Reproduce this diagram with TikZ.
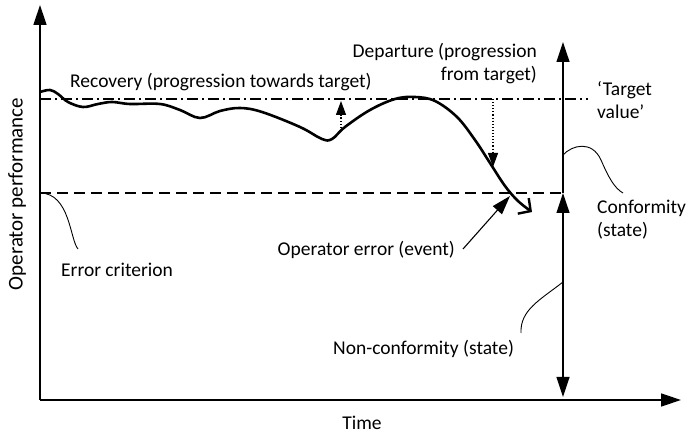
\documentclass[tikz,border=0pt]{standalone}
\usepackage{fontspec}
\setmainfont{Carlito}
\usetikzlibrary{arrows.meta}
\begin{document}
\begin{tikzpicture}[x=1pt,y=-1pt,
  lbl/.style={inner sep=0pt,font=\fontsize{19.5}{23}\selectfont},
  axis/.style={line width=1.4pt,-{Triangle[length=20pt,width=13pt]}},
  statearrow/.style={line width=1.2pt},
  thin/.style={line width=0.9pt},
  dotarrow/.style={line width=1.1pt,dotted,-{Triangle[length=14pt,width=10pt]}},
  refline/.style={line width=1.1pt},
  perf/.style={line width=2.6pt,-{Straight Barb[length=9pt,width=19pt,line width=2.4pt]}}]
\useasboundingbox (0,0) rectangle (689,435);

% axes
\coordinate (O) at (40,400);
\coordinate (ytop) at (40,5);
\coordinate (xend) at (681,400);
\draw[axis] (O) -- (ytop);
\draw[axis] (O) -- (xend);

% reference levels
\coordinate (tgtL) at (40,99);
\coordinate (tgtR) at (588,99);
\coordinate (errL) at (40,193);
\coordinate (errR) at (563,193);
\draw[refline,dash pattern=on 11pt off 4pt on 2pt off 4pt] (tgtL) -- (tgtR);
\draw[refline,dash pattern=on 11pt off 6pt] (errL) -- (errR);

% state arrows on the right
\coordinate (vtop) at (563,42);
\coordinate (vbot) at (563,397);
\draw[statearrow,-{Triangle[length=20pt,width=13pt]}] (errR) -- (vtop);
\draw[statearrow,{Triangle[length=20pt,width=13pt]}-{Triangle[length=20pt,width=13pt]}] (errR) -- (vbot);

% operator performance over time
\draw[perf] plot[smooth,tension=0.6] coordinates {
  (40,92) (50,90) (58,94) (68,102) (83,107) (98,104) (112,102) (130,104)
  (160,104) (180,110) (200,118) (220,111) (240,108) (262,112) (300,127)
  (322,139) (332,139) (345,127) (370,110) (395,99) (415,97) (435,101)
  (457,117) (475,140) (490,163) (505,186) (518,201) (532,212)};

% recovery and departure
\coordinate (recA) at (341,131);
\coordinate (recB) at (341,101);
\draw[dotarrow] (recA) -- (recB);
\coordinate (depA) at (493,99);
\coordinate (depB) at (493,167);
\draw[dotarrow] (depA) -- (depB);

% labels
\node[lbl,anchor=west] (rec) at (70,82) {Recovery (progression towards target)};
\node[lbl,anchor=east,align=right] (dep) at (537,63.5) {Departure (progression\\from target)};
\node[lbl,anchor=west,align=left] (tv) at (597,100.5) {‘Target\\value’};
\node[lbl,anchor=west,align=left] (conf) at (597,220) {Conformity\\(state)};
\node[lbl,anchor=west] (errc) at (61,270) {Error criterion};
\node[lbl,anchor=east] (oe) at (455,250) {Operator error (event)};
\node[lbl,anchor=west] (nc) at (333,349) {Non-conformity (state)};
\node[lbl] (time) at (362,423) {Time};
\node[lbl,rotate=90,font=\fontsize{21}{24}\selectfont] (yl) at (17,194) {Operator performance};

% leader lines
\coordinate (errTip) at (78,249);
\draw[thin] (errL) .. controls (70,193) and (70,240) .. (errTip);
\coordinate (confA) at (563,155);
\coordinate (confB) at (623,193);
\draw[thin] (confA) .. controls (572,145) and (592,140) .. (601,160) .. controls (608,176) and (614,188) .. (confB);
\coordinate (ncA) at (563,282);
\coordinate (ncB) at (521,333);
\draw[thin] (ncA) .. controls (540,300) and (520,310) .. (ncB);
\coordinate (oeA) at (463,249);
\coordinate (oeB) at (510,196);
\draw[line width=1.1pt,-{Triangle[length=19pt,width=12pt]}] (oeA) -- (oeB);
\end{tikzpicture}
\end{document}
